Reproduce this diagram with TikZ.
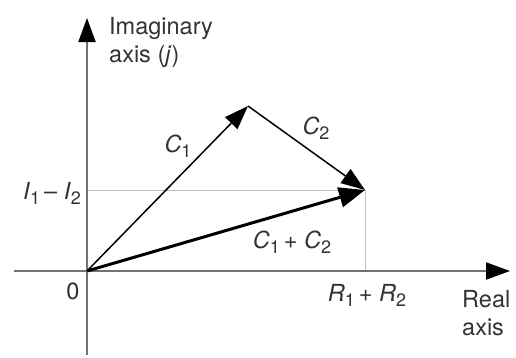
\documentclass[tikz,border=0pt]{standalone}
\usepackage{fontspec}
\setmainfont{TeX Gyre Heros}
\usetikzlibrary{arrows.meta}
\newcommand{\sbs}[1]{\raisebox{-0.4ex}{\fontsize{18}{18}\selectfont #1}}
\tikzset{
  axisarrow/.style={line width=2pt, draw=black!55, -{Triangle[length=24pt,width=17pt,fill=black,color=black]}},
  guide/.style={draw=black!25, line width=1pt},
  vec/.style={draw=black, line width=1.5pt, -{Triangle[length=24pt,width=17pt]}},
  bigvec/.style={draw=black, line width=3pt, -{Triangle[length=26pt,width=20pt]}},
  lbl/.style={font=\fontsize{23.5}{28}\selectfont, inner sep=0pt, text=black!80},
}
\begin{document}
\begin{tikzpicture}[x=1pt,y=-1pt]
\useasboundingbox (0,0) rectangle (516,357);
% points
\coordinate (O) at (87,271);
\coordinate (A) at (248,106);
\coordinate (B) at (365,190);
\coordinate (yb) at (87,355);
\coordinate (yt) at (87,18);
\coordinate (xl) at (14,271);
\coordinate (xr) at (510,271);
\coordinate (gy) at (87,190);
\coordinate (gx) at (365,271);
% guides
\draw[guide] (gy) -- (B) -- (gx);
% axes
\draw[axisarrow] (yb) -- (yt);
\draw[axisarrow] (xl) -- (xr);
% vectors
\draw[vec] (O) -- (A);
\draw[vec] (A) -- (B);
\draw[bigvec] (O) -- (B);
% labels
\node[lbl, anchor=base west, align=left] (imag) at (109,62) {Imaginary\\axis (\textit{j})};
\node[lbl, anchor=base west, align=left] (real) at (462,335) {Real\\axis};
\node[lbl] (c1) at (178,146) {\textit{C}\sbs{1}};
\node[lbl] (c2) at (316,128) {\textit{C}\sbs{2}};
\node[lbl, anchor=east] (ii) at (81,193) {\textit{I}\sbs{1}\,– \textit{I}\sbs{2}};
\node[lbl] (c12) at (292,242) {\textit{C}\sbs{1}\,+ \textit{C}\sbs{2}};
\node[lbl] (zero) at (73,291) {0};
\node[lbl] (rr) at (367,295) {\textit{R}\sbs{1}\,+ \textit{R}\sbs{2}};
\end{tikzpicture}
\end{document}
